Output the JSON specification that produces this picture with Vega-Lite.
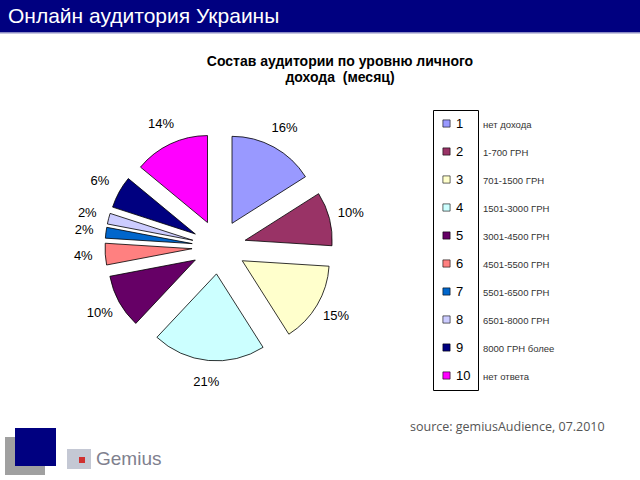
{
  "$schema": "https://vega.github.io/schema/vega-lite/v6.json",
  "width": 640,
  "height": 480,
  "autosize": {"type": "none"},
  "padding": 0,
  "background": "white",
  "config": {
    "view": {"stroke": null},
    "font": "Liberation Sans",
    "legend": {
      "orient": "none",
      "legendX": 433,
      "legendY": 110,
      "direction": "vertical",
      "symbolType": "square",
      "symbolSize": 52,
      "symbolStrokeColor": "black",
      "symbolStrokeWidth": 0.6,
      "labelFont": "Liberation Sans",
      "labelFontSize": 13,
      "labelColor": "black",
      "labelOffset": 3,
      "rowPadding": 14,
      "padding": 7,
      "strokeColor": "black",
      "strokeWidth": 1
    }
  },
  "data": {
    "values": [
      {"id": 1, "pct": 16, "lab": "16%", "desc": "нет дохода"},
      {"id": 2, "pct": 10, "lab": "10%", "desc": "1-700 ГРН"},
      {"id": 3, "pct": 15, "lab": "15%", "desc": "701-1500 ГРН"},
      {"id": 4, "pct": 21, "lab": "21%", "desc": "1501-3000 ГРН"},
      {"id": 5, "pct": 10, "lab": "10%", "desc": "3001-4500 ГРН"},
      {"id": 6, "pct": 4, "lab": "4%", "desc": "4501-5500 ГРН"},
      {"id": 7, "pct": 2, "lab": "2%", "desc": "5501-6500 ГРН"},
      {"id": 8, "pct": 2, "lab": "2%", "desc": "6501-8000 ГРН"},
      {"id": 9, "pct": 6, "lab": "6%", "desc": "8000 ГРН более"},
      {"id": 10, "pct": 14, "lab": "14%", "desc": "нет ответа"}
    ]
  },
  "layer": [
    {
      "data": {"values": [{"t": "Онлайн аудитория Украины"}]},
      "mark": {"type": "rect", "x": 0, "x2": 640, "y": 0, "y2": 32, "color": "#000080"}
    },
    {
      "data": {"values": [{"t": "line"}]},
      "mark": {"type": "rect", "x": 0, "x2": 640, "y": 32, "y2": 33.5, "color": "#8c8cc4"}
    },
    {
      "data": {"values": [{"t": "Онлайн аудитория Украины"}]},
      "mark": {"type": "text", "x": 8, "y": 17, "align": "left", "baseline": "middle", "fontSize": 21, "color": "white", "font": "Liberation Sans"},
      "encoding": {"text": {"field": "t"}}
    },
    {
      "data": {"values": [{"t": "Состав аудитории по уровню личного\nдохода\u00a0 (месяц)"}]},
      "mark": {"type": "text", "x": 340, "y": 55, "align": "center", "baseline": "top", "fontSize": 14, "fontWeight": "bold", "lineHeight": 16, "lineBreak": "\n", "color": "black"},
      "encoding": {"text": {"field": "t"}}
    },
    {
      "mark": {"type": "arc", "outerRadius": 87, "stroke": "black", "strokeWidth": 0.8},
      "encoding": {
        "theta": {"field": "pct", "type": "quantitative", "stack": true},
        "order": {"field": "id", "type": "quantitative"},
        "color": {
          "field": "id",
          "type": "nominal",
          "title": null,
          "scale": {"range": ["#9999FF", "#993366", "#FFFFCC", "#CCFFFF", "#660066", "#FF8080", "#0066CC", "#CCCCFF", "#000080", "#FF00FF"]}
        },
        "x": {"value": {"expr": "219 + 27*sin((scale('theta', datum.pct_start) + scale('theta', datum.pct_end))/2)"}},
        "y": {"value": {"expr": "247 - 27*cos((scale('theta', datum.pct_start) + scale('theta', datum.pct_end))/2)"}}
      }
    },
    {
      "mark": {"type": "text", "x": 219, "y": 247, "radius": 136, "fontSize": 13, "color": "black", "align": "center", "baseline": "middle"},
      "encoding": {
        "theta": {"field": "pct", "type": "quantitative", "stack": true},
        "order": {"field": "id", "type": "quantitative"},
        "text": {"field": "lab"}
      }
    },
    {
      "mark": {"type": "text", "x": 483, "align": "left", "baseline": "middle", "fontSize": 9.5, "color": "#333333"},
      "encoding": {
        "y": {"field": "id", "type": "ordinal", "scale": {"type": "point", "range": [125, 377], "padding": 0}, "axis": null},
        "text": {"field": "desc"}
      }
    },
    {
      "data": {"values": [{"t": "source: gemiusAudience, 07.2010"}]},
      "mark": {"type": "text", "x": 410, "y": 427, "align": "left", "baseline": "middle", "fontSize": 12.5, "font": "Open Sans", "color": "#555555"},
      "encoding": {"text": {"field": "t"}}
    },
    {
      "data": {"values": [{"t": "shadow"}]},
      "mark": {"type": "rect", "x": 5, "x2": 45, "y": 437, "y2": 475, "color": "#a0a0a0"}
    },
    {
      "data": {"values": [{"t": "square"}]},
      "mark": {"type": "rect", "x": 15, "x2": 56, "y": 428, "y2": 466, "color": "#000080"}
    },
    {
      "data": {"values": [{"t": "icon"}]},
      "mark": {"type": "rect", "x": 67, "x2": 91, "y": 449, "y2": 469, "color": "#c4c8d4"}
    },
    {
      "data": {"values": [{"t": "icon-red"}]},
      "mark": {"type": "rect", "x": 79, "x2": 85, "y": 457, "y2": 463, "color": "#d03030"}
    },
    {
      "data": {"values": [{"t": "Gemius"}]},
      "mark": {"type": "text", "x": 96, "y": 459, "align": "left", "baseline": "middle", "fontSize": 19, "color": "#80808e"},
      "encoding": {"text": {"field": "t"}}
    }
  ]
}
